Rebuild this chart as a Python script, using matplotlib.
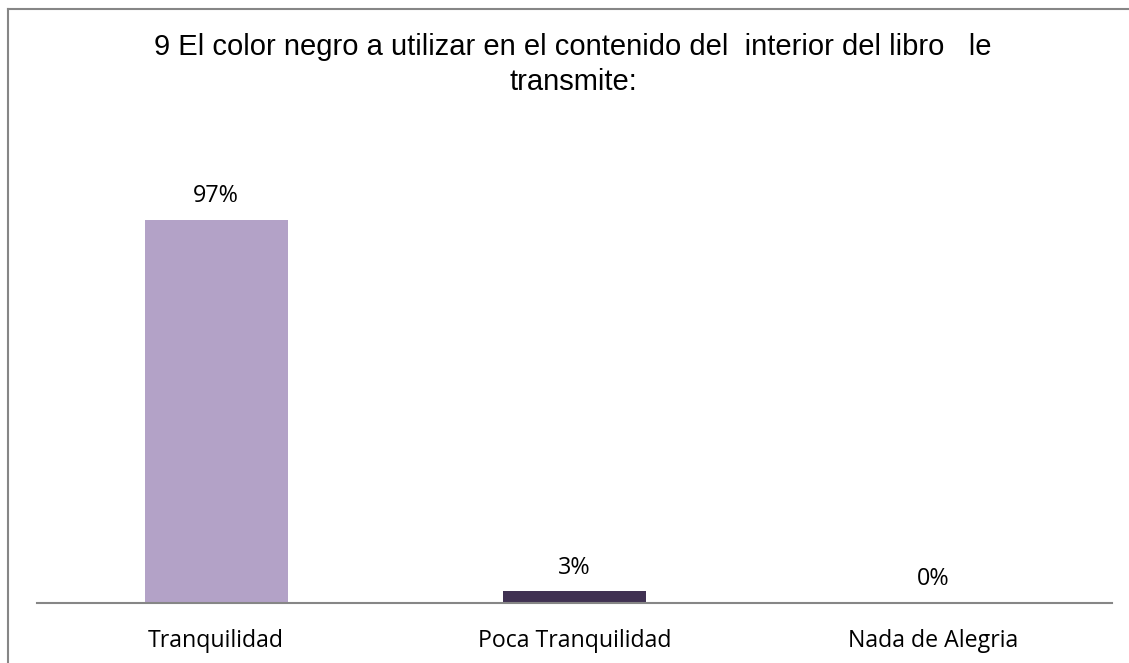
import matplotlib
matplotlib.use("Agg")
import matplotlib.pyplot as plt
from matplotlib.lines import Line2D

categories = ["Tranquilidad", "Poca Tranquilidad", "Nada de Alegria"]
values = [0.97, 0.03, 0.0]
value_labels = ["97%", "3%", "0%"]
bar_colors = ["#B3A2C7", "#403152", "#B3A2C7"]
title = "9 El color negro a utilizar en el contenido del  interior del libro   le\ntransmite:"

W, H = 1129, 663
fig = plt.figure(figsize=(W / 100, H / 100), dpi=100)

# plot area in pixel coordinates
x0, x1 = 37, 1112
y_base, y_top = 603, 150
ax = fig.add_axes([x0 / W, 1 - y_base / H, (x1 - x0) / W, (y_base - y_top) / H])

ax.bar(range(len(categories)), values, width=0.4, color=bar_colors)
ax.set_xlim(-0.5, len(categories) - 0.5)
ymax = (y_base - y_top) / (y_base - 220) * values[0]
ax.set_ylim(0, ymax)

for i, (v, lab) in enumerate(zip(values, value_labels)):
    ax.annotate(lab, (i, v), xytext=(0, 17), textcoords="offset points",
                ha="center", va="center", fontsize=16.8, family="Open Sans",
                color="#000000")

ax.set_xticks(range(len(categories)))
ax.set_xticklabels(categories, fontsize=16.7, family="Open Sans")
ax.tick_params(axis="x", length=0, pad=19)
ax.set_yticks([])
for s in ["top", "right", "left"]:
    ax.spines[s].set_visible(False)
ax.spines["bottom"].set_color("#868686")
ax.spines["bottom"].set_linewidth(1.5)

fig.text(573 / W, 1 - 33 / H, title, ha="center", va="top", fontsize=21,
         family="Liberation Sans", linespacing=1.3)

# chart border (only left and top visible in the crop)
fig.add_artist(Line2D([7.5 / W, 7.5 / W], [0, 1 - 9 / H], transform=fig.transFigure,
                      color="#868686", lw=1.5))
fig.add_artist(Line2D([7.5 / W, 1], [1 - 9 / H, 1 - 9 / H], transform=fig.transFigure,
                      color="#868686", lw=1.5))

fig.savefig("out.png", dpi=100, facecolor="white")
